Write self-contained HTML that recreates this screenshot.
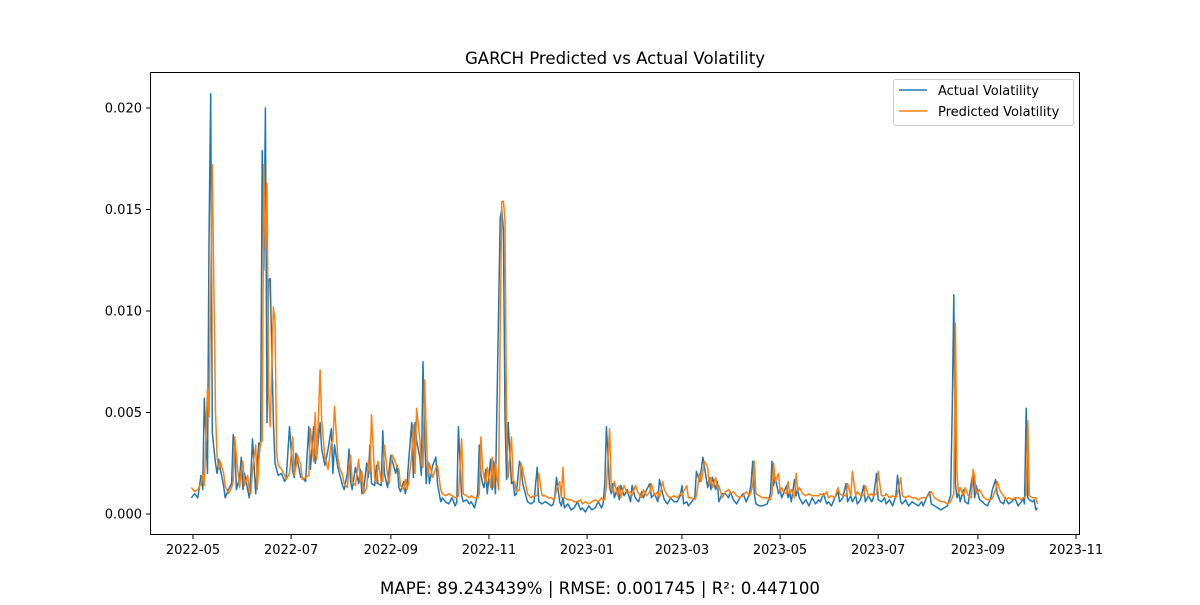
<!DOCTYPE html>
<html><head><meta charset="utf-8"><style>
body{margin:0;background:#fff;font-family:"Liberation Sans","DejaVu Sans",sans-serif}
svg text{font-family:"DejaVu Sans","Liberation Sans",sans-serif}
</style></head><body>
<svg id="chart" width="1200" height="600" xmlns="http://www.w3.org/2000/svg">
<rect width="1200" height="600" fill="#fff"/>
<text x="615" y="64" font-size="16.6" text-anchor="middle">GARCH Predicted vs Actual Volatility</text>
<g id="plot"></g>
<rect x="150.5" y="72.5" width="929" height="462" fill="none" stroke="#000" stroke-width="1"/>
<g>
<rect x="893.5" y="79.5" width="180" height="46" rx="2" fill="#fff" fill-opacity="0.8" stroke="#ccc"/>
<line x1="899" y1="90" x2="927" y2="90" stroke="#1f77b4" stroke-width="1.5"/>
<text x="938" y="95" font-size="13">Actual Volatility</text>
<line x1="899" y1="111" x2="927" y2="111" stroke="#ff7f0e" stroke-width="1.5"/>
<text x="938" y="116" font-size="13">Predicted Volatility</text>
</g>
<text x="600" y="594" font-size="16.6" text-anchor="middle">MAPE: 89.243439% | RMSE: 0.001745 | R²: 0.447100</text>
</svg>
<script>
// days since 2022-05-01
const days=[-1,1,3,5,6,7,9,10,11,12,14,15,16,17,19,20,22,24,25,26,27,29,30,31,32,34,35,36,37,39,40,41,42,43,44,45,46,47,48,50,51,52,53,55,57,58,60,62,63,64,65,67,68,70,72,73,75,76,77,79,80,82,84,86,87,88,90,91,93,94,96,97,98,99,101,103,104,105,106,108,109,110,111,113,114,115,117,118,119,121,122,123,124,126,127,128,129,131,132,133,134,136,137,138,139,141,142,143,144,145,146,147,149,151,152,154,155,157,159,161,163,164,165,167,168,170,172,173,175,177,178,179,180,181,182,183,185,186,187,188,190,191,192,193,194,195,196,198,199,200,201,203,204,205,207,208,210,212,214,215,217,219,221,223,224,225,226,228,229,230,231,233,235,237,239,241,242,244,246,248,250,252,254,255,256,257,259,260,261,262,264,265,266,268,270,272,273,275,277,279,280,282,284,285,287,289,290,292,293,295,297,299,301,303,304,305,307,308,310,312,313,315,316,317,318,320,321,322,323,325,326,327,329,331,333,334,336,338,340,342,344,346,347,348,349,350,352,354,357,359,360,361,362,364,365,366,367,369,370,371,372,374,375,376,377,379,381,383,385,387,389,390,392,394,395,397,399,401,402,404,406,407,409,410,412,413,415,417,418,420,422,423,425,426,428,430,431,433,435,437,438,440,441,443,445,447,449,451,453,454,456,458,459,461,463,465,467,469,471,472,473,474,475,476,477,479,480,482,484,485,486,487,489,491,492,494,496,497,499,500,502,504,505,507,509,511,513,515,516,517,518,519,520,522,523,524,525];
// volatility values in units of 0.001
const actual=[0.8,1.0,0.8,1.9,1.2,5.7,2.0,14,20.7,4.0,2.5,2.0,2.7,2.2,1.4,0.8,1.2,1.5,3.9,3.3,1.2,1.8,2.8,1.2,2.0,1.2,0.8,2.0,3.7,1.0,2.5,3.5,3.4,17.9,12,20.0,4.5,11.5,11.6,4.5,2.5,2.2,1.9,2.0,1.6,1.8,4.3,2.1,1.8,3.0,2.6,1.8,1.8,1.6,4.3,2.2,4.3,2.5,2.9,4.5,3.2,2.4,3.2,4.2,2.0,3.4,2.3,2.0,1.4,1.2,2.0,3.2,1.6,1.2,2.3,1.5,2.2,1.0,1.1,2.5,1.8,3.4,1.5,1.4,2.4,1.5,1.4,4.1,2.0,1.3,2.2,2.9,2.6,2.0,2.4,1.3,1.1,1.6,1.0,1.4,2.5,4.5,1.8,4.5,3.6,2.8,1.9,7.5,4.0,1.5,2.6,1.5,2.4,2.8,1.5,0.6,0.8,0.6,0.5,0.8,0.4,0.6,4.3,0.9,0.6,0.7,0.5,0.6,0.3,1.0,3.4,2.0,1.5,1.3,2.2,1.0,2.7,1.2,2.6,1.0,10.0,14.6,15.0,14.0,4.8,1.7,4.5,1.5,1.6,0.9,1.0,2.6,2.3,1.5,0.9,0.6,0.5,0.6,2.3,0.6,0.5,0.6,0.5,0.4,0.5,0.9,1.8,0.6,0.4,0.8,0.3,0.5,0.2,0.3,0.6,0.2,0.3,0.1,0.4,0.2,0.3,0.6,0.3,0.5,1.5,4.3,1.3,1.0,1.5,0.8,1.3,0.7,1.4,0.9,1.2,0.6,1.4,0.8,0.6,1.1,0.8,1.2,1.5,0.8,1.0,0.6,1.7,1.0,0.7,0.5,0.8,0.6,0.6,0.9,1.4,0.5,0.6,0.4,0.6,0.8,2.1,1.6,2.2,2.8,2.3,1.3,1.8,1.2,1.8,1.2,1.6,0.6,1.0,1.0,0.8,1.1,0.7,0.5,0.8,1.0,0.6,1.0,1.5,2.6,1.0,0.5,0.4,0.4,0.5,1.0,2.6,1.4,1.8,1.0,1.2,0.8,1.0,1.4,0.8,1.1,0.6,1.7,0.9,1.2,0.8,0.5,0.7,0.4,0.8,0.5,0.7,0.6,1.0,0.5,0.6,0.4,0.8,1.1,0.6,0.8,1.5,0.6,0.9,0.6,0.9,0.5,0.7,1.4,0.6,0.9,0.6,0.8,2.0,0.7,0.6,0.8,0.5,0.7,0.4,0.9,1.9,0.6,0.5,0.7,0.4,0.6,0.5,0.4,0.6,0.4,0.8,1.1,0.5,0.4,0.3,0.2,0.3,0.4,0.9,5.0,10.8,1.5,0.8,1.1,0.6,1.2,0.6,0.5,1.6,2.0,0.8,1.4,0.7,0.6,0.5,0.4,0.8,1.2,1.7,1.0,0.6,0.5,0.8,0.5,0.6,0.8,0.4,0.6,0.8,0.5,5.2,0.8,0.7,0.6,0.7,0.2,0.3];
const predicted=[1.3,1.1,1.2,1.5,1.9,1.4,6.2,4.8,11,17.2,5.0,2.8,2.2,2.6,2.0,1.4,1.0,1.3,1.6,3.8,2.8,1.3,2.1,2.6,1.4,1.9,1.1,1.0,2.2,3.4,1.2,2.7,3.5,3.6,17.2,13,16.3,6.0,4.3,10.2,9.5,3.0,2.4,2.2,1.9,1.7,2.0,3.8,1.9,2.3,2.9,2.4,1.7,1.8,1.9,4.2,2.6,5.0,2.7,7.1,4.6,2.8,2.2,3.5,3.6,5.3,2.8,2.3,1.9,1.5,1.3,2.4,2.9,1.6,1.4,2.7,1.6,2.1,1.0,1.3,2.6,2.0,4.9,1.8,1.5,2.6,1.6,1.6,3.4,1.9,1.5,2.4,2.9,2.5,2.3,2.2,1.4,1.2,1.7,1.2,1.5,2.9,4.4,2.0,5.2,3.7,2.5,2.3,6.6,4.1,1.9,2.5,1.8,2.3,2.4,1.2,1.0,0.9,1.0,0.9,0.8,0.8,0.9,3.7,1.0,0.9,0.8,0.9,0.8,0.8,1.0,3.8,2.3,1.8,1.5,2.3,1.3,2.8,1.3,2.5,1.2,9.0,15.4,15.4,14.5,4.0,1.8,3.8,1.6,1.6,1.1,1.2,2.5,2.2,1.4,1.0,0.8,0.9,0.9,2.0,0.9,0.9,0.8,0.8,0.7,0.8,1.2,1.6,0.8,2.3,0.8,0.7,0.7,0.6,0.6,0.7,0.5,0.6,0.5,0.6,0.7,0.6,0.8,0.7,0.7,1.4,4.2,1.3,1.1,1.6,0.9,1.4,0.8,1.4,1.0,1.1,0.9,1.4,1.0,0.8,1.2,0.9,1.1,1.5,0.9,1.1,0.8,1.6,1.2,0.9,0.8,0.9,0.8,1.0,0.9,1.1,1.4,0.8,0.8,0.7,0.9,2.0,1.6,2.1,2.6,2.3,1.4,1.8,1.3,1.8,1.3,1.4,0.8,1.1,1.2,1.0,1.1,0.9,0.8,0.9,1.1,0.9,1.1,1.4,2.6,1.0,0.9,0.8,0.8,0.7,1.0,2.5,1.6,2.0,1.1,1.3,1.1,1.0,1.6,1.0,1.2,0.8,2.0,1.1,1.3,1.0,0.9,1.0,0.9,0.9,0.9,1.0,0.9,1.1,0.8,0.9,0.8,1.3,1.0,0.9,0.9,1.5,0.9,2.1,0.9,1.1,0.9,0.9,1.4,0.9,1.0,0.9,1.0,2.1,0.9,0.9,1.0,0.8,0.9,0.8,1.0,1.8,0.9,0.8,0.9,0.8,0.8,0.7,0.8,0.8,0.8,1.0,1.1,0.8,0.7,0.6,0.6,0.5,0.6,0.8,1.0,9.4,2.0,1.0,1.3,0.9,1.3,0.9,0.8,2.2,1.8,1.0,1.2,0.9,0.8,0.7,0.7,0.8,1.2,1.6,1.1,0.9,0.7,0.8,0.7,0.8,0.8,0.7,0.8,0.8,0.9,4.6,0.9,0.8,0.8,0.8,0.5];
const yTicks=[0,5,10,15,20];
const yTickLabels=["0.000","0.005","0.010","0.015","0.020"];
const xTickDays=[0,61,123,184,245,304,365,426,488,549];
const xTickLabels=["2022-05","2022-07","2022-09","2022-11","2023-01","2023-03","2023-05","2023-07","2023-09","2023-11"];

const NS="http://www.w3.org/2000/svg";
const X=d=>193+d*1.6084;
const Y=v=>514-v*20.3;
const g=document.getElementById('plot');
function mk(t,a){const e=document.createElementNS(NS,t);for(const k in a)e.setAttribute(k,a[k]);g.appendChild(e);return e;}
yTicks.forEach((v,i)=>{
  const t=mk('line',{x1:146,x2:150,y1:Y(v),y2:Y(v),stroke:'#000'});
  
  
  const l=mk('text',{x:142,y:Y(v)+4.5,'font-size':13,'text-anchor':'end'});
  l.textContent=yTickLabels[i];
  
  
});
xTickDays.forEach((d,i)=>{
  const t=mk('line',{x1:X(d),x2:X(d),y1:535,y2:539,stroke:'#000'});
  
  
  const l=mk('text',{x:X(d),y:554,'font-size':13,'text-anchor':'middle'});
  l.textContent=xTickLabels[i];
  
  
});
function line(vals,color){
  return mk('polyline',{points:days.map((d,i)=>X(d).toFixed(1)+','+Y(vals[i]).toFixed(1)).join(' '),fill:'none',stroke:color,'stroke-width':1.5,'stroke-linejoin':'round'});
}
const a=line(actual,'#1f77b4');


const p=line(predicted,'#ff7f0e');


</script>
</body></html>
